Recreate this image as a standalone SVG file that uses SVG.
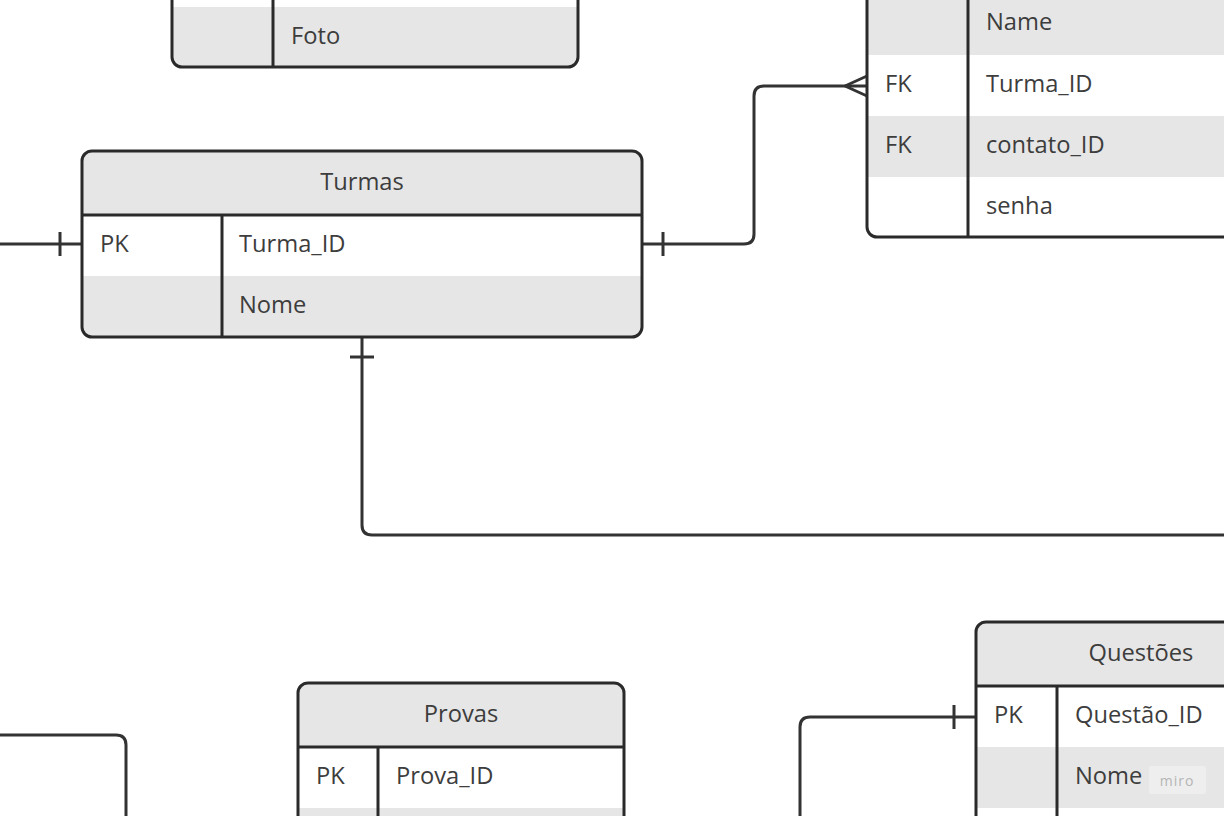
<svg xmlns="http://www.w3.org/2000/svg" width="1224" height="816" viewBox="0 0 1224 816">
<style>
.t{font-family:"Open Sans","Liberation Sans",sans-serif;font-size:23.7px;font-weight:400;fill:#3d3d3d}
.h{text-anchor:middle}
.g{fill:#e6e6e6}
.w{fill:#ffffff}
.b{fill:none;stroke:#2a2a2a;stroke-width:3}
.c{fill:none;stroke:#333333;stroke-width:3;stroke-linejoin:round}
</style>
<defs>
<clipPath id="c1"><rect x="172" y="-200" width="406" height="267" rx="10"/></clipPath>
<clipPath id="c2"><rect x="867" y="-200" width="500" height="437" rx="10"/></clipPath>
<clipPath id="c3"><rect x="82" y="151" width="560" height="186" rx="10"/></clipPath>
<clipPath id="c4"><rect x="298" y="683" width="326" height="300" rx="10"/></clipPath>
<clipPath id="c5"><rect x="976" y="622" width="400" height="400" rx="10"/></clipPath>
</defs>
<rect width="1224" height="816" fill="#ffffff"/>

<g id="connectors">
<path class="c" d="M0 244 H82"/>
<path class="c" d="M60 232 V256"/>
<path class="c" d="M642 244 H744 Q754 244 754 234 V96 Q754 86 764 86 H867"/>
<path class="c" d="M663 232 V256"/>
<path class="c" d="M845 86 L867 76 M845 86 L867 96"/>
<path class="c" d="M362 337 V525 Q362 535 372 535 H1224"/>
<path class="c" d="M350 357 H374"/>
<path class="c" d="M976 717 H810 Q800 717 800 727 V816"/>
<path class="c" d="M954 705 V729"/>
<path class="c" d="M0 735 H116 Q126 735 126 745 V816"/>
</g>

<g id="table-top-left">
<g clip-path="url(#c1)">
<rect x="172" y="-200" width="406" height="267" class="w"/>
<rect x="172" y="7" width="406" height="60" class="g"/>
</g>
<rect x="172" y="-200" width="406" height="267" rx="10" class="b"/>
<path class="b" d="M273 -100 V67"/>
<text class="t" x="291" y="44">Foto</text>
</g>

<g id="table-top-right">
<g clip-path="url(#c2)">
<rect x="867" y="-6" width="500" height="243" class="w"/>
<rect x="867" y="-200" width="500" height="255" class="g"/>
<rect x="867" y="116" width="500" height="61" class="g"/>
</g>
<rect x="867" y="-200" width="500" height="437" rx="10" class="b"/>
<path class="b" d="M968 -100 V237"/>
<text class="t" x="986" y="30">Name</text>
<text class="t" x="885" y="92">FK</text>
<text class="t" x="986" y="92">Turma_ID</text>
<text class="t" x="885" y="153">FK</text>
<text class="t" x="986" y="153">contato_ID</text>
<text class="t" x="986" y="214">senha</text>
</g>

<g id="turmas">
<g clip-path="url(#c3)">
<rect x="82" y="151" width="560" height="186" class="w"/>
<rect x="82" y="151" width="560" height="64" class="g"/>
<rect x="82" y="276" width="560" height="61" class="g"/>
</g>
<rect x="82" y="151" width="560" height="186" rx="10" class="b"/>
<path class="b" d="M82 215 H642 M222 215 V337"/>
<text class="t h" x="362" y="190">Turmas</text>
<text class="t" x="100" y="252">PK</text>
<text class="t" x="239" y="252">Turma_ID</text>
<text class="t" x="239" y="313">Nome</text>
</g>

<g id="provas">
<g clip-path="url(#c4)">
<rect x="298" y="683" width="326" height="300" class="w"/>
<rect x="298" y="683" width="326" height="64" class="g"/>
<rect x="298" y="808" width="326" height="61" class="g"/>
</g>
<rect x="298" y="683" width="326" height="300" rx="10" class="b"/>
<path class="b" d="M298 747 H624 M378 747 V983"/>
<text class="t h" x="461" y="722">Provas</text>
<text class="t" x="316" y="784">PK</text>
<text class="t" x="396" y="784">Prova_ID</text>
</g>

<g id="questoes">
<g clip-path="url(#c5)">
<rect x="976" y="622" width="400" height="400" class="w"/>
<rect x="976" y="622" width="400" height="64" class="g"/>
<rect x="976" y="747" width="400" height="61" class="g"/>
</g>
<rect x="976" y="622" width="400" height="400" rx="10" class="b"/>
<path class="b" d="M976 686 H1376 M1057 686 V1022"/>
<text class="t h" x="1141" y="661">Questões</text>
<text class="t" x="994" y="723">PK</text>
<text class="t" x="1075" y="723">Questão_ID</text>
<text class="t" x="1075" y="784">Nome</text>
</g>

<g id="watermark">
<rect x="1149" y="766" width="57" height="28" rx="2" fill="#eeeeee"/>
<text x="1177" y="786" text-anchor="middle" font-family="Open Sans, Liberation Sans, sans-serif" font-size="14" fill="#b5b5b5" letter-spacing="1">miro</text>
</g>
</svg>
